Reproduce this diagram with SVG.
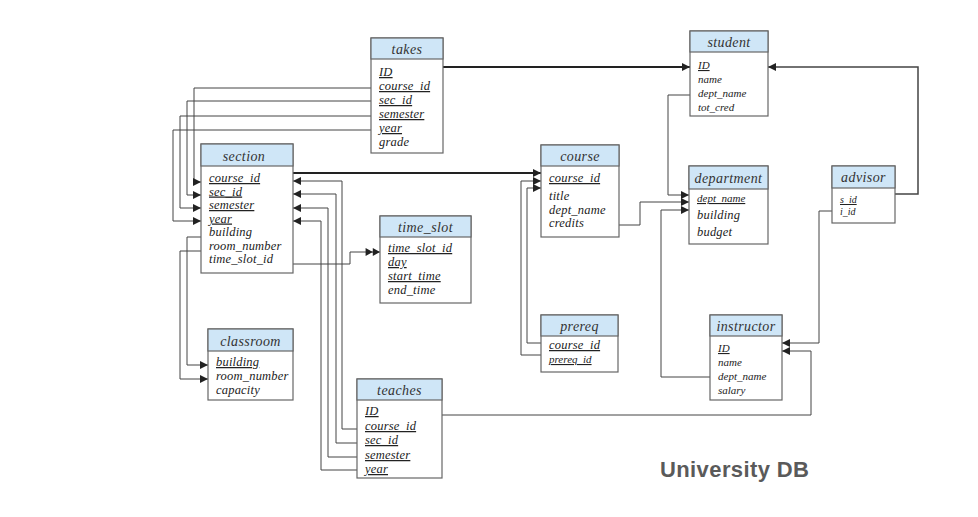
<svg xmlns="http://www.w3.org/2000/svg" width="978" height="517" viewBox="0 0 978 517">
<defs>
<marker id="arr" viewBox="0 0 10 10" refX="10" refY="5" markerWidth="9" markerHeight="8" markerUnits="userSpaceOnUse" orient="auto"><path d="M0,0 L10,5 L0,10 z" fill="#222"/></marker>
<marker id="arr2" viewBox="0 0 18 10" refX="18" refY="5" markerWidth="16" markerHeight="8" markerUnits="userSpaceOnUse" orient="auto"><path d="M0,0 L9,5 L0,10 z M9,0 L18,5 L9,10 z" fill="#222"/></marker>
<style>
.box{fill:#fff;stroke:#666;stroke-width:1.2}
.hd{fill:#cfe6f7;stroke:#666;stroke-width:1.2}
.t{font-family:"Liberation Serif","DejaVu Serif",serif;font-style:italic;fill:#222}
.h{font-size:14px;text-anchor:middle;letter-spacing:0.4px;fill:#333}
.r{font-size:12.5px;letter-spacing:0.2px}
.s{font-size:11px}
.xs{font-size:10px}
.u{text-decoration:underline}
.c{fill:none;stroke:#444;stroke-width:1}
.k{fill:none;stroke:#222;stroke-width:2}
.a{marker-end:url(#arr)}
.a2{marker-end:url(#arr2)}
</style>
</defs>
<rect width="978" height="517" fill="#fff"/>
<g id="connectors">
<path class="k a" d="M443,67 H690"/>
<path class="c a" d="M371,88 H194 V182 H201"/>
<path class="c a" d="M371,101 H187 V195 H201"/>
<path class="c a" d="M371,116 H180 V208 H201"/>
<path class="c a" d="M371,130 H173 V221 H201"/>
<path class="c a" d="M201,237 H187 V365 H208"/>
<path class="c a" d="M201,251 H180 V379 H208"/>
<path class="c a2" d="M293,264 H350 V252 H380"/>
<path class="k a" d="M293,173 H541"/>
<path class="c a" d="M357,429 H342 V181 H293"/>
<path class="c a" d="M357,443 H336 V194 H293"/>
<path class="c a" d="M357,457 H328 V208 H293"/>
<path class="c a" d="M357,470 H321 V221 H293"/>
<path class="c a" d="M541,355 H521 V181 H541"/>
<path class="c a" d="M541,343 H527 V188 H541"/>
<path class="c a" d="M619,225 H640 V202 H689"/>
<path class="c a" d="M690,95 H668 V195 H689"/>
<path class="c a" d="M710,377 H661 V210 H689"/>
<path class="c a" d="M895,194 H918 V67 H768" style="stroke-width:1.5"/>
<path class="c a" d="M832,211 H819 V343 H782"/>
<path class="c a" d="M442,415 H811 V351 H782"/>
</g>
<g id="takes">
<rect class="box" x="371" y="38" width="72" height="115"/>
<rect class="hd" x="371" y="38" width="72" height="21"/>
<text class="t h" x="407" y="54">takes</text>
<text class="t r u" x="379" y="76">ID</text>
<text class="t r u" x="379" y="90">course_id</text>
<text class="t r u" x="379" y="104">sec_id</text>
<text class="t r u" x="379" y="118">semester</text>
<text class="t r u" x="379" y="132">year</text>
<text class="t r" x="379" y="146">grade</text>
</g>
<g id="student">
<rect class="box" x="690" y="31" width="78" height="85"/>
<rect class="hd" x="690" y="31" width="78" height="21"/>
<text class="t h" x="729" y="47">student</text>
<text class="t s u" x="698" y="69">ID</text>
<text class="t s" x="698" y="83">name</text>
<text class="t s" x="698" y="97">dept_name</text>
<text class="t s" x="698" y="111">tot_cred</text>
</g>
<g id="section">
<rect class="box" x="201" y="144" width="92" height="129"/>
<rect class="hd" x="201" y="144" width="92" height="22"/>
<text class="t h" x="244" y="161">section</text>
<text class="t r u" x="209" y="182">course_id</text>
<text class="t r u" x="209" y="195.5">sec_id</text>
<text class="t r u" x="209" y="209">semester</text>
<text class="t r u" x="209" y="222.5">year</text>
<text class="t r" x="209" y="236">building</text>
<text class="t r" x="209" y="249.5">room_number</text>
<text class="t r" x="209" y="263">time_slot_id</text>
</g>
<g id="course">
<rect class="box" x="541" y="145" width="78" height="92"/>
<rect class="hd" x="541" y="145" width="78" height="21"/>
<text class="t h" x="580" y="161">course</text>
<text class="t r u" x="549" y="182">course_id</text>
<text class="t r" x="549" y="200">title</text>
<text class="t r" x="549" y="214">dept_name</text>
<text class="t r" x="549" y="227">credits</text>
</g>
<g id="department">
<rect class="box" x="689" y="166" width="79" height="78"/>
<rect class="hd" x="689" y="166" width="79" height="23"/>
<text class="t h" x="728.5" y="183">department</text>
<text class="t s u" x="697" y="202">dept_name</text>
<text class="t r" x="697" y="219">building</text>
<text class="t r" x="697" y="236">budget</text>
</g>
<g id="advisor">
<rect class="box" x="832" y="166" width="63" height="57"/>
<rect class="hd" x="832" y="166" width="63" height="22"/>
<text class="t h" x="863.5" y="182">advisor</text>
<text class="t xs u" x="840" y="203">s_id</text>
<text class="t xs" x="840" y="215">i_id</text>
</g>
<g id="time_slot">
<rect class="box" x="380" y="216" width="91" height="87"/>
<rect class="hd" x="380" y="216" width="91" height="21"/>
<text class="t h" x="425.5" y="232">time_slot</text>
<text class="t r u" x="388" y="252">time_slot_id</text>
<text class="t r u" x="388" y="266">day</text>
<text class="t r u" x="388" y="280">start_time</text>
<text class="t r" x="388" y="294">end_time</text>
</g>
<g id="prereq">
<rect class="box" x="541" y="315" width="77" height="57"/>
<rect class="hd" x="541" y="315" width="77" height="21"/>
<text class="t h" x="579.5" y="331">prereq</text>
<text class="t r u" x="549" y="349">course_id</text>
<text class="t s u" x="549" y="363">prereq_id</text>
</g>
<g id="instructor">
<rect class="box" x="710" y="315" width="72" height="85"/>
<rect class="hd" x="710" y="315" width="72" height="21"/>
<text class="t h" x="746" y="331">instructor</text>
<text class="t s u" x="718" y="352">ID</text>
<text class="t s" x="718" y="366">name</text>
<text class="t s" x="718" y="380">dept_name</text>
<text class="t s" x="718" y="394">salary</text>
</g>
<g id="classroom">
<rect class="box" x="208" y="329" width="85" height="71"/>
<rect class="hd" x="208" y="329" width="85" height="22"/>
<text class="t h" x="250.5" y="346">classroom</text>
<text class="t r u" x="216" y="366">building</text>
<text class="t r" x="216" y="380">room_number</text>
<text class="t r" x="216" y="394">capacity</text>
</g>
<g id="teaches">
<rect class="box" x="357" y="379" width="85" height="99"/>
<rect class="hd" x="357" y="379" width="85" height="21"/>
<text class="t h" x="399.5" y="395">teaches</text>
<text class="t r u" x="365" y="415">ID</text>
<text class="t r u" x="365" y="430">course_id</text>
<text class="t r u" x="365" y="444">sec_id</text>
<text class="t r u" x="365" y="459">semester</text>
<text class="t r u" x="365" y="473">year</text>
</g>
<text x="660" y="477" font-family="'Liberation Sans',Arial,sans-serif" font-weight="bold" font-size="22" textLength="149" fill="#5a5a5a">University DB</text>
</svg>
